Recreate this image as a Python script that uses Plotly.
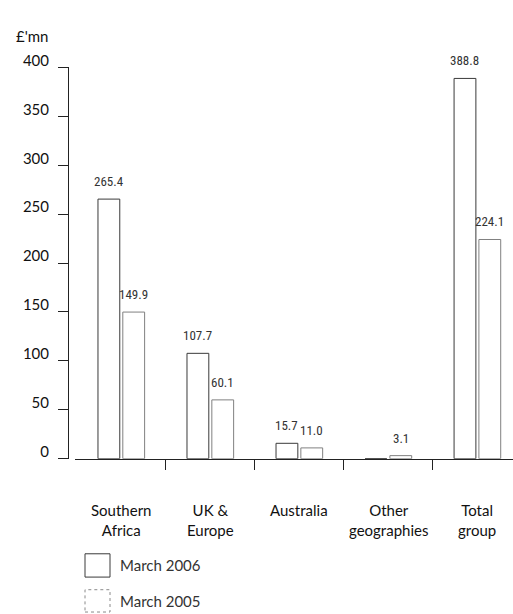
import plotly.graph_objects as go

# Profit by region, £ million
categories = ["Southern<br>Africa", "UK &<br>Europe", "Australia", "Other<br>geographies", "Total<br>group"]
march_2006 = [265.4, 107.7, 15.7, 0.0, 388.8]
march_2005 = [149.9, 60.1, 11.0, 3.1, 224.1]
series_names = ["March 2006", "March 2005"]
y_ticks = [0, 50, 100, 150, 200, 250, 300, 350, 400]

W, H = 513, 614
BAR_W = 0.245
OFF_2006 = -0.262
OFF_2005 = 0.017

label_font = dict(family="Lato, 'Open Sans', sans-serif", size=15, color="#111")
value_font = dict(family="'Liberation Sans Narrow', 'Roboto Condensed', Roboto, sans-serif", size=13, color="#333")

xs = list(range(len(categories)))

fig = go.Figure()
fig.add_trace(go.Bar(
    x=xs, y=march_2006, name=series_names[0],
    width=BAR_W, offset=OFF_2006,
    marker=dict(color="white", line=dict(color="#3a3a3a", width=1)),
))
fig.add_trace(go.Bar(
    x=xs, y=march_2005, name=series_names[1],
    width=BAR_W, offset=OFF_2005,
    marker=dict(color="white", line=dict(color="#808080", width=1)),
))

# value labels above each bar (zero-height bars left unlabelled)
for vals, off in ((march_2006, OFF_2006), (march_2005, OFF_2005)):
    for i, v in enumerate(vals):
        if v <= 0:
            continue
        fig.add_annotation(
            x=i + off + BAR_W / 2, y=v, xref="x", yref="y",
            text=f"{v:.1f}", showarrow=False, yanchor="bottom", yshift=8,
            font=value_font,
        )

# category labels under the axis
for i, c in enumerate(categories):
    fig.add_annotation(
        x=i, y=1 - 497 / H, xref="x", yref="paper",
        text=c, showarrow=False, yanchor="top", align="center",
        font=label_font,
    )

# unit label
fig.add_annotation(
    x=14 / W, y=1 - 20 / H, xref="paper", yref="paper",
    text="£'mn", showarrow=False, xanchor="left", yanchor="middle",
    font=label_font,
)

# key
key_rows = [(553, 577, "#3a3a3a", "solid"), (590, 613, "#8a8a8a", "dot")]
for (top, bot, col, dash), name in zip(key_rows, series_names):
    fig.add_shape(
        type="rect", xref="paper", yref="paper",
        x0=85 / W, x1=110 / W, y0=1 - bot / H, y1=1 - top / H,
        line=dict(color=col, width=1, dash=dash), fillcolor="white",
    )
    fig.add_annotation(
        x=118 / W, y=1 - (top + bot) / 2 / H, xref="paper", yref="paper",
        text=name, showarrow=False, xanchor="left", yanchor="middle",
        font=dict(family=label_font["family"], size=15, color="#333"),
    )

fig.update_layout(
    width=W, height=H,
    margin=dict(l=0, r=0, t=0, b=0),
    paper_bgcolor="white", plot_bgcolor="white",
    showlegend=False,
    barmode="group",
    xaxis=dict(
        domain=[75 / W, 1.0],
        range=[-0.52, 4.40],
        tickmode="array", tickvals=[0.5, 1.5, 2.5, 3.5], ticktext=["", "", "", ""],
        ticks="outside", ticklen=10, tickcolor="#222", tickwidth=1,
        showline=True, linecolor="#222", linewidth=1,
        showgrid=False, zeroline=False, fixedrange=True,
    ),
    yaxis=dict(
        domain=[1 - 455 / H, 1 - 52 / H],
        range=[0, 400],
        anchor="free", position=68 / W,
        tickmode="array", tickvals=y_ticks,
        ticks="outside", ticklen=10, tickcolor="#222", tickwidth=1,
        ticklabelshift=-7, ticklabelstandoff=6,
        tickfont=dict(family=label_font["family"], size=15, color="#111"),
        showline=True, linecolor="#222", linewidth=1,
        showgrid=False, zeroline=False, fixedrange=True,
    ),
)

fig.write_html("out.html")
